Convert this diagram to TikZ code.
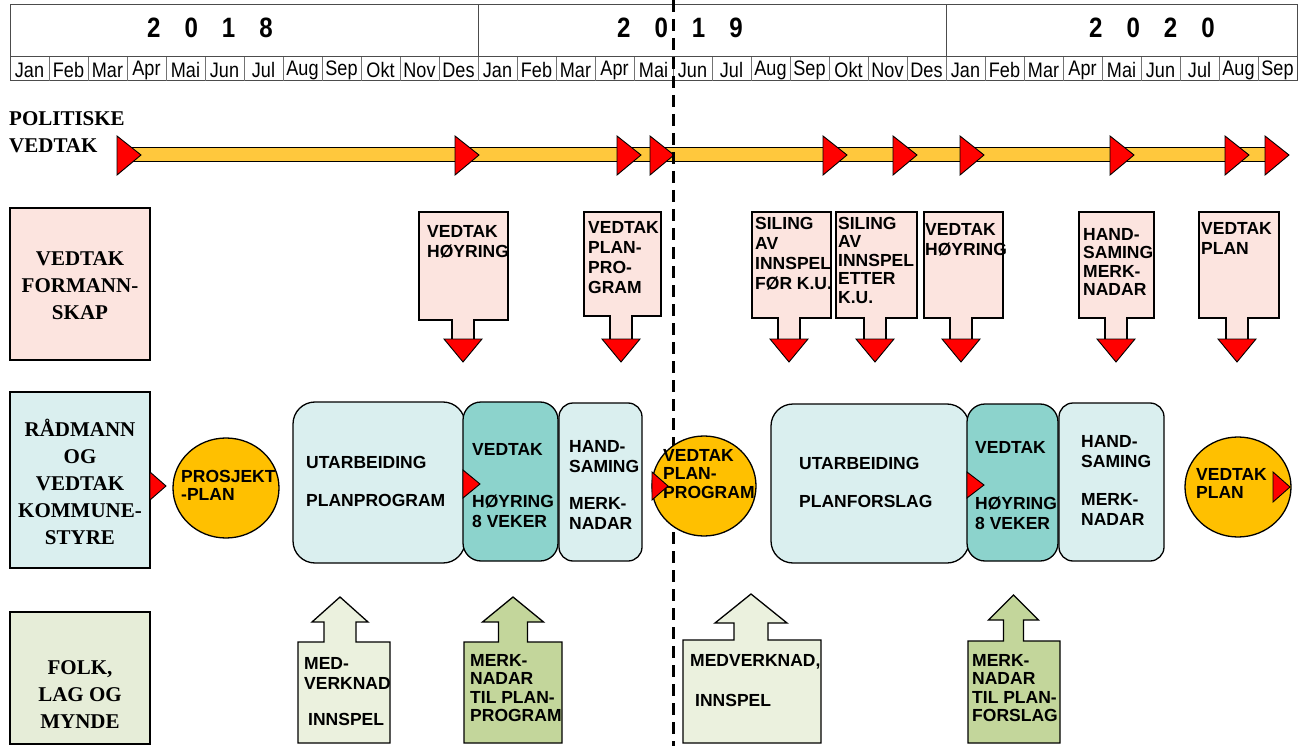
\documentclass[tikz,border=0pt]{standalone}
\usepackage{fontspec}
\setmainfont{Liberation Serif}
\setsansfont{Liberation Sans}
\newfontfamily\narrowfont[FakeStretch=0.86]{Liberation Sans}
\definecolor{pinkc}{HTML}{FCE4DF}
\definecolor{bluec}{HTML}{DAEFEF}
\definecolor{tealc}{HTML}{8CD3CC}
\definecolor{barc}{HTML}{FFC83D}
\definecolor{orangec}{HTML}{FFC000}
\definecolor{redc}{HTML}{FF0000}
\definecolor{greenl}{HTML}{E6EDD8}
\definecolor{greenc}{HTML}{EBF1DE}
\definecolor{greend}{HTML}{C3D69B}
\tikzset{
  outl/.style={draw=black, line width=1.3pt},
  redtri/.style={draw=black, line width=0.9pt, fill=redc, line join=miter},
  hdr/.style={draw=black!70, line width=1pt},
  mline/.style={draw=black!55, line width=0.8pt},
  month/.style={font=\narrowfont\fontsize{21}{21}\selectfont, inner sep=0},
  yeartxt/.style={font=\narrowfont\bfseries\fontsize{28}{28}\selectfont, inner sep=0},
  lanetxt/.style={font=\bfseries\fontsize{21}{27}\selectfont, align=center, inner sep=0},
  ctext/.style={font=\sffamily\bfseries\fontsize{17.5}{20}\selectfont, align=left, inner sep=0, anchor=north west},
  ctextc/.style={font=\sffamily\bfseries\fontsize{17.5}{18.5}\selectfont, align=left, inner sep=0, anchor=north west},
  divider/.style={draw=black, line width=3pt, dash pattern=on 12pt off 7pt},
  roundbox/.style={outl, rounded corners=22pt},
  circ/.style={outl, fill=orangec},
}
\newcommand\calldown[6]{% name, x1, x2, bottom, stem centre, fill
  \draw[outl, fill=#6] (#2,212) -- (#3,212) -- (#3,#4) -- ({#5+11},#4) -- ({#5+11},340)
     -- ({#5-11},340) -- ({#5-11},#4) -- (#2,#4) -- cycle;
  \draw[redtri] ({#5-19},339) -- ({#5+19},339) -- (#5,362) -- cycle;
}
\newcommand\callup[9]{% x1, x2, top, stem centre, stem half, head half, head base, tip y, fill
  \draw[outl, fill=#9] (#1,743) -- (#1,#3) -- ({#4-#5},#3) -- ({#4-#5},#7) -- ({#4-#6},#7)
     -- (#4,#8) -- ({#4+#6},#7) -- ({#4+#5},#7) -- ({#4+#5},#3) -- (#2,#3) -- (#2,743) -- cycle;
}
\begin{document}
\begin{tikzpicture}[x=1pt,y=-1pt]
\useasboundingbox (0,0) rectangle (1304,746);

% ---- header ----
\draw[hdr] (10,5) rectangle (1297,81);
\draw[hdr] (10,57) -- (1297,57);
\draw[hdr] (478,5) -- (478,81);
\draw[hdr] (946,5) -- (946,81);
\foreach \i in {1,...,32} \draw[mline] ({10+39*\i},57) -- ({10+39*\i},81);
\foreach \m [count=\i from 0] in {Jan,Feb,Mar,Apr,Mai,Jun,Jul,Aug,Sep,Okt,Nov,Des,Jan,Feb,Mar,Apr,Mai,Jun,Jul,Aug,Sep,Okt,Nov,Des,Jan,Feb,Mar,Apr,Mai,Jun,Jul,Aug,Sep}
  \node[month] (m\i) at ({10+39*\i+19.5},70) {\m};
\node[yeartxt] (y2018) at (210,28) {2\hspace{24pt}0\hspace{24pt}1\hspace{24pt}8};
\node[yeartxt] (y2019) at (680,28) {2\hspace{24pt}0\hspace{24pt}1\hspace{24pt}9};
\node[yeartxt] (y2020) at (1152,28) {2\hspace{24pt}0\hspace{24pt}2\hspace{24pt}0};

% ---- politiske vedtak ----
\node[lanetxt, align=left, anchor=north west] (pol) at (9,111) {POLITISKE\\VEDTAK};
\draw[draw=black, line width=1pt, fill=barc] (125,148) rectangle (1272,162);
\foreach \b in {117,455,617,650,823,893,960,1110,1225,1265}
  \draw[redtri] (\b,136) -- (\b+24,155) -- (\b,175) -- cycle;

% ---- divider ----
\coordinate (dtop) at (673,0);
\coordinate (dbot) at (673,746);
\draw[divider] (dtop) -- (dbot);

% ---- lane labels ----
\draw[outl, fill=pinkc] (10,208) rectangle (150,360);
\node[lanetxt] (lane1) at (80,286) {VEDTAK\\FORMANN-\\SKAP};
\draw[outl, fill=bluec] (10,392) rectangle (150,568);
\node[lanetxt] (lane2) at (80,482) {RÅDMANN\\OG\\VEDTAK\\KOMMUNE-\\STYRE};
\draw[outl, fill=greenl] (10,612) rectangle (150,744);
\node[lanetxt] (lane3) at (80,695) {FOLK,\\LAG OG\\MYNDE};
\draw[redtri] (150,472) -- (166,486) -- (150,500) -- cycle;

% ---- formannskap callouts ----
\calldown{c1}{419}{508}{320}{463}{pinkc}
\node[ctext] (t1) at (427,225) {VEDTAK\\HØYRING};
\calldown{c2}{584}{661}{316}{621}{pinkc}
\node[ctext] (t2) at (588,221) {VEDTAK\\PLAN-\\PRO-\\GRAM};
\calldown{cA}{752}{831}{318}{789}{pinkc}
\node[ctext] (tA) at (755,217) {SILING\\AV\\INNSPEL\\FØR K.U.};
\calldown{cB}{836}{917}{318}{875}{pinkc}
\node[ctextc] (tB) at (838,217) {SILING\\AV\\INNSPEL\\ETTER\\K.U.};
\calldown{cC}{924}{1003}{318}{961}{pinkc}
\node[ctext] (tC) at (925,223) {VEDTAK\\HØYRING};
\calldown{cD}{1079}{1154}{318}{1116}{pinkc}
\node[ctextc] (tD) at (1083,228) {HAND-\\SAMING\\MERK-\\NADAR};
\calldown{cE}{1199}{1279}{318}{1237}{pinkc}
\node[ctext] (tE) at (1201,222) {VEDTAK\\PLAN};

% ---- middle row ----
\draw[circ] (226,488) ellipse [x radius=53pt, y radius=50pt];
\node[ctextc] (pp) at (181,470) {PROSJEKT\\-PLAN};

\draw[roundbox, fill=bluec] (293,402) rectangle (465,563);
\node[ctext] (u1) at (306,456) {UTARBEIDING\\[18pt]PLANPROGRAM};
\draw[roundbox, rounded corners=18pt, fill=tealc] (463,402) rectangle (558,561);
\node[ctext] (h1) at (472,443) {VEDTAK\\[32pt]HØYRING\\8 VEKER};
\draw[redtri] (463,470) -- (480,484) -- (463,498) -- cycle;
\draw[roundbox, rounded corners=14pt, fill=bluec] (559,403) rectangle (642,561);
\node[ctext] (s1) at (569,440) {HAND-\\SAMING\\[17pt]MERK-\\NADAR};

\draw[circ] (704,486) ellipse [x radius=52pt, y radius=50pt];
\node[ctextc] (vpp) at (663,449) {VEDTAK\\PLAN-\\PROGRAM};
\draw[redtri] (652,472) -- (668,486) -- (652,500) -- cycle;

\draw[roundbox, fill=bluec] (771,404) rectangle (969,563);
\node[ctext] (u2) at (799,457) {UTARBEIDING\\[18pt]PLANFORSLAG};
\draw[roundbox, rounded corners=18pt, fill=tealc] (967,404) rectangle (1058,561);
\node[ctext] (h2) at (975,441) {VEDTAK\\[36pt]HØYRING\\8 VEKER};
\draw[redtri] (967,472) -- (984,485) -- (967,498) -- cycle;
\draw[roundbox, rounded corners=14pt, fill=bluec] (1059,403) rectangle (1164,561);
\node[ctext] (s2) at (1081,435) {HAND-\\SAMING\\[18pt]MERK-\\NADAR};

\draw[circ] (1238,487) ellipse [x radius=53pt, y radius=50pt];
\node[ctextc] (vp) at (1196,468) {VEDTAK\\PLAN};
\draw[redtri] (1273,472) -- (1290,487) -- (1273,502) -- cycle;

% ---- bottom row ----
\callup{298}{390}{642}{340}{16}{28}{622}{597}{greenc}
\node[ctext] (b1) at (304,657) {MED-\\VERKNAD\\[16pt]\hspace{4pt}INNSPEL};
\callup{464}{562}{642}{513}{14.5}{30.5}{622}{597}{greend}
\node[ctextc] (b2) at (470,654) {MERK-\\NADAR\\TIL PLAN-\\PROGRAM};
\callup{683}{821}{640}{751}{17}{36}{623}{594}{greenc}
\node[ctext] (b3) at (690,654) {MEDVERKNAD,\\[20pt]\hspace{5pt}INNSPEL};
\callup{968}{1060}{641}{1013.5}{10}{25}{620}{595}{greend}
\node[ctextc] (b4) at (972,654) {MERK-\\NADAR\\TIL PLAN-\\FORSLAG};
\end{tikzpicture}
\end{document}
